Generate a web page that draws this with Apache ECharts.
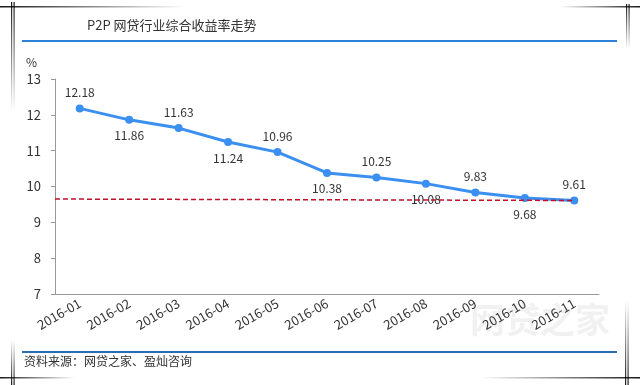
<!DOCTYPE html>
<html><head><meta charset="utf-8">
<script src="https://cdn.jsdelivr.net/npm/echarts@6/dist/echarts.min.js"></script>
<style>html,body{margin:0;padding:0;background:#fff}#c{width:640px;height:385px}</style>
</head><body><div id="c"></div>
<script>
var categories = ['2016-01','2016-02','2016-03','2016-04','2016-05','2016-06','2016-07','2016-08','2016-09','2016-10','2016-11'];
var rates = [12.18, 11.86, 11.63, 11.24, 10.96, 10.38, 10.25, 10.08, 9.83, 9.68, 9.61];
var refLine = [[0, 9.65], [10.5, 9.61]];
var yTicks = [7, 8, 9, 10, 11, 12, 13];

var chart = echarts.init(document.getElementById('c'), null, {renderer: 'canvas'});
var font = '"Noto Sans CJK SC", "Noto Sans", sans-serif';
function gradRect(x, y, w, h, horiz, rev) {
  var stops = rev ? [{offset: 0, color: 'rgba(0,0,0,0)'}, {offset: 1, color: 'rgba(0,0,0,0.9)'}]
                  : [{offset: 0, color: 'rgba(0,0,0,0.9)'}, {offset: 1, color: 'rgba(0,0,0,0)'}];
  var g = horiz ? new echarts.graphic.LinearGradient(0, 0, 1, 0, stops) : new echarts.graphic.LinearGradient(0, 0, 0, 1, stops);
  return {type: 'rect', shape: {x: x, y: y, width: w, height: h}, style: {fill: g}, silent: true};
}
chart.setOption({
  animation: false,
  backgroundColor: '#fff',
  grid: {left: 55, right: 41, top: 79, bottom: 91},
  title: {
    text: 'P2P 网贷行业综合收益率走势', left: 82, top: 14,
    textStyle: {fontFamily: font, fontSize: 13, fontWeight: 'normal', color: '#333'}
  },
  graphic: [
    {type: 'text', left: 470, top: 302, z: 0, style: {text: '网贷之家', font: 'bold 35px "Noto Sans CJK SC"', fill: 'rgba(190,190,190,0.22)'}},
    {type: 'rect', shape: {x: 22, y: 40, width: 595, height: 2}, style: {fill: '#2f80d8'}, silent: true},
    {type: 'rect', shape: {x: 22, y: 351, width: 595, height: 2}, style: {fill: '#2a6db3'}, silent: true},
    {type: 'text', left: 24, top: 355, style: {text: '资料来源：网贷之家、盈灿咨询', font: '12px "Noto Sans CJK SC"', fill: '#333'}},
    gradRect(0, 6, 185, 1.5, true, false),
    gradRect(11, 2, 1.2, 110, false, false),
    gradRect(13.5, 2, 1.2, 110, false, false),
    gradRect(560, 6, 80, 1.5, true, true),
    gradRect(626, 4, 1.2, 45, false, false),
    gradRect(628.5, 4, 1.2, 45, false, false),
    gradRect(0, 377, 75, 1.5, true, false),
    gradRect(11, 340, 1.2, 45, false, true),
    gradRect(13.5, 340, 1.2, 45, false, true),
    gradRect(480, 377, 160, 1.5, true, true),
    gradRect(625, 300, 1.2, 85, false, true),
    gradRect(627.5, 300, 1.2, 85, false, true)
  ],
  xAxis: [{
    type: 'category', data: categories, boundaryGap: true,
    axisLine: {lineStyle: {color: '#999', width: 1}},
    axisTick: {inside: true, length: 4, lineStyle: {color: '#999'}},
    axisLabel: {rotate: 30, margin: 8, fontFamily: font, fontSize: 13, color: '#333', interval: 0}
  }, {
    type: 'value', min: 0, max: 11, show: false
  }],
  yAxis: {
    type: 'value', min: 7, max: 13, interval: 1, name: '%',
    nameLocation: 'end', nameGap: 11,
    nameTextStyle: {fontFamily: font, fontSize: 12, color: '#333', align: 'right', padding: [0, 18, 0, 0]},
    axisLine: {show: true, lineStyle: {color: '#999'}},
    axisTick: {show: true, length: 4, lineStyle: {color: '#999'}},
    axisLabel: {fontFamily: font, fontSize: 13, color: '#333', margin: 14,
      formatter: function (v) { return yTicks.indexOf(v) >= 0 ? String(v) : ''; }},
    splitLine: {show: false}
  },
  series: [{
    type: 'line', xAxisIndex: 1, data: refLine, symbol: 'none', z: 3,
    lineStyle: {color: '#c0102a', width: 1.5, type: [5, 3]}
  }, {
    type: 'line', xAxisIndex: 0, z: 2,
    data: rates.map(function (v, i) {
      return {value: v, label: {position: i % 2 === 0 ? 'top' : 'bottom'}};
    }),
    symbol: 'circle', symbolSize: 8,
    itemStyle: {color: '#3b8ff0'},
    lineStyle: {color: '#3b8ff0', width: 3},
    label: {show: true, distance: 6, fontFamily: font, fontSize: 12, color: '#333',
      formatter: function (p) { return p.value.toFixed(2); }}
  }]
});
</script></body></html>
